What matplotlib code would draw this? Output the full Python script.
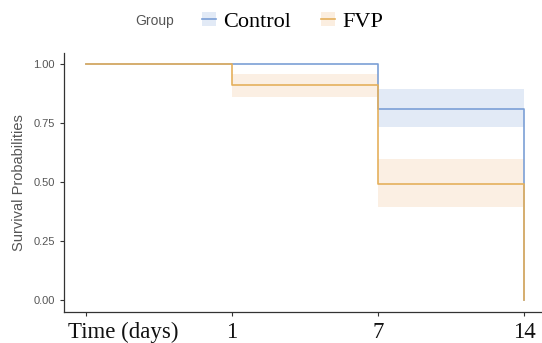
import matplotlib.pyplot as plt
from matplotlib.lines import Line2D
from matplotlib.patches import Patch
from matplotlib.transforms import ScaledTranslation

# x positions are categorical: Time (days), 1, 7, 14
tick_labels = ['Time (days)', '1', '7', '14']
x_pos = [0, 1, 2, 3]

# survival step values (post steps at each x position)
control_surv = [1.00, 1.00, 0.81, 0.00]
fvp_surv = [1.00, 0.91, 0.49, 0.00]

# confidence bands: (start, end, lower, upper)
control_ci = [(2, 3, 0.733, 0.894)]
fvp_ci = [(1, 2, 0.86, 0.96), (2, 3, 0.394, 0.60)]

BLUE = '#7b9fd6'
ORANGE = '#e5b05c'
BLUE_FILL = '#e2eaf6'
ORANGE_FILL = '#fbeee0'

fig = plt.figure(figsize=(5.42, 3.43), dpi=100)
ax = fig.add_axes([0.118, 0.091, 0.882, 0.754])

for x0, x1, lo, hi in control_ci:
    ax.fill_between([x0, x1], lo, hi, color=BLUE_FILL, lw=0, zorder=1)
for x0, x1, lo, hi in fvp_ci:
    ax.fill_between([x0, x1], lo, hi, color=ORANGE_FILL, lw=0, alpha=0.9, zorder=1)

ax.step(x_pos, control_surv, where='post', color=BLUE, lw=1.2, zorder=2)
ax.step(x_pos, fvp_surv, where='post', color=ORANGE, lw=1.2, zorder=3)

ax.set_xlim(-0.15, 3.12)
ax.set_ylim(-0.05, 1.047)
ax.set_xticks(x_pos)
ax.set_xticklabels(tick_labels, family='Liberation Serif', fontsize=16.5, color='#111111')
ax.set_yticks([0, 0.25, 0.5, 0.75, 1.0])
ax.set_yticklabels(['0.00', '0.25', '0.50', '0.75', '1.00'],
                   family='Liberation Sans', fontsize=8, color='#555555')
ax.tick_params(axis='both', color='#333333', length=3, width=0.8)
ax.tick_params(axis='x', pad=4)
# the first label sits to the right of its tick, as in the original
first = ax.get_xticklabels()[0]
first.set_ha('left')
first.set_transform(first.get_transform() + ScaledTranslation(-0.18, 0, fig.dpi_scale_trans))

ax.set_ylabel('Survival Probabilities', family='Liberation Sans', fontsize=10.5,
              color='#555555', labelpad=5)
for s in ['top', 'right']:
    ax.spines[s].set_visible(False)
for s in ['left', 'bottom']:
    ax.spines[s].set_color('#333333')
    ax.spines[s].set_linewidth(0.9)

# legend
fig.text(0.249, 0.938, 'Group', family='Liberation Sans', fontsize=10,
         color='#555555', va='center')
handles = [(Patch(facecolor=BLUE_FILL, edgecolor='none'),
            Line2D([], [], color=BLUE, lw=1.2)),
           (Patch(facecolor=ORANGE_FILL, edgecolor='none'),
            Line2D([], [], color=ORANGE, lw=1.2))]
leg = fig.legend(handles, ['Control', 'FVP'], loc='center left',
                 bbox_to_anchor=(0.344, 0.936), ncol=2, frameon=False,
                 handlelength=0.65, handleheight=0.6, handletextpad=0.3,
                 columnspacing=1.35, borderpad=0.2,
                 prop={'family': 'Liberation Serif', 'size': 16})

fig.savefig('out.png', dpi=100, facecolor='white')
